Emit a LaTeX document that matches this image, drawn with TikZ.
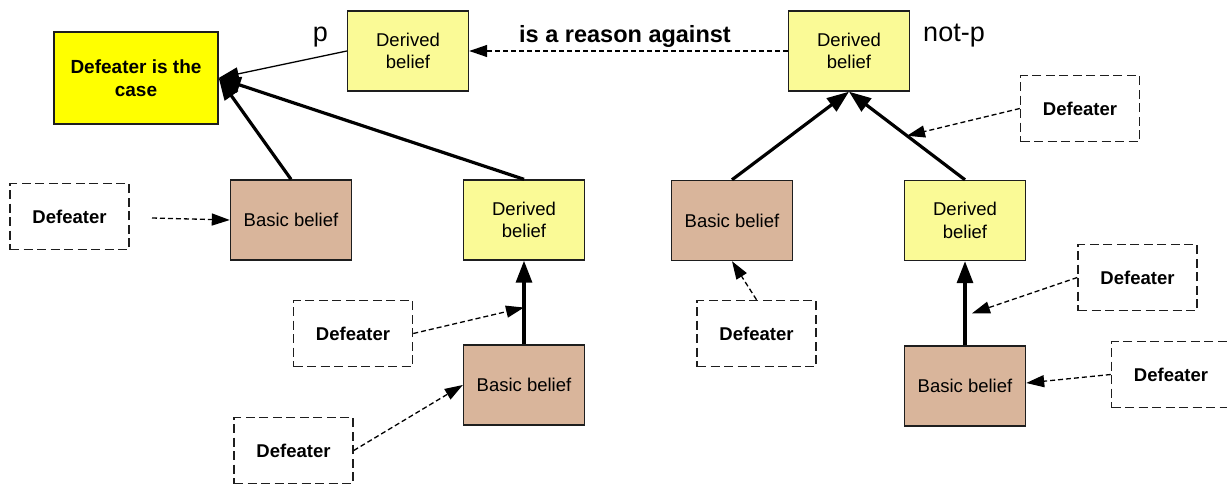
\documentclass[tikz,border=0pt]{standalone}
\usepackage{fontspec}
\setmainfont{Liberation Sans}
\usetikzlibrary{arrows.meta,calc}

\definecolor{casefill}{RGB}{255,255,0}
\definecolor{derivedfill}{RGB}{250,250,150}
\definecolor{basicfill}{RGB}{217,181,155}
\definecolor{edgecol}{RGB}{30,30,30}

\begin{document}
\begin{tikzpicture}[x=1pt,y=-1pt,
  box/.style={draw=edgecol, line width=1.4pt, inner sep=0pt, align=center,
    font=\fontsize{18.5}{22.7}\selectfont},
  derived/.style={box, fill=derivedfill, minimum width=121pt, minimum height=80pt},
  basic/.style={box, fill=basicfill, minimum width=121pt, minimum height=80pt},
  defeater/.style={draw=edgecol, line width=1.5pt, dash pattern=on 9pt off 4.5pt,
    minimum width=119pt, minimum height=66pt, inner sep=0pt,
    font=\bfseries\fontsize{18.5}{22}\selectfont},
  support/.style={line width=3.2pt, -{Triangle[length=22pt,width=16pt]}},
  plain/.style={line width=1.3pt, -{Triangle[length=20pt,width=13pt]}},
  attack/.style={line width=1.3pt, dash pattern=on 5pt off 3pt,
    -{Triangle[length=18pt,width=12pt]}},
  tag/.style={anchor=base, inner sep=0pt, font=\fontsize{27}{30}\selectfont},
]
\useasboundingbox (0,0) rectangle (1227,485);

% conclusion
\node[box, fill=casefill, font=\bfseries\fontsize{19}{23.3}\selectfont,
  minimum width=164pt, minimum height=92pt] (case) at (136,78) {Defeater is the\\case};

% top row of derived beliefs
\node[derived] (dp) at (408,51) {Derived\\belief};
\node[derived] (dnp) at (849,51) {Derived\\belief};
\node[tag] (p) at (320.5,41) {p};
\node[tag] (notp) at (954,41) {not-p};

% left branch
\node[basic] (b1) at (291,220) {Basic belief};
\node[derived] (d3) at (524,220) {Derived\\belief};
\node[basic] (b2) at (524,385) {Basic belief};

% right branch
\node[basic] (b3) at (732,220.5) {Basic belief};
\node[derived] (d4) at (965,220.5) {Derived\\belief};
\node[basic] (b4) at (965,386) {Basic belief};

% defeaters
\node[defeater] (f1) at (69.5,216.5) {Defeater};
\node[defeater] (f2) at (353,333.5) {Defeater};
\node[defeater] (f3) at (293.5,450.5) {Defeater};
\node[defeater] (f4) at (756.5,333.5) {Defeater};
\node[defeater] (f5) at (1080,108.5) {Defeater};
\node[defeater] (f6) at (1137.5,277.5) {Defeater};
\node[defeater] (f7) at (1171,374.5) {Defeater};

% support links
\draw[plain] (dp.west) -- (case.east);
\draw[support] (b1.north) -- (case.east);
\draw[support] (d3.north) -- (case.east);
\draw[support] (b2.north) -- (d3.south);
\draw[support] (b3.north) -- (dnp.south);
\draw[support] (d4.north) -- (dnp.south);
\draw[support] (b4.north) -- (d4.south);

% rebutting link
\draw[attack] (dnp.west) -- (dp.east);
\node[anchor=base, inner sep=0pt, font=\bfseries\fontsize{23.5}{26}\selectfont]
  (reason) at (625,42.5) {is a reason against};

% defeater links
\coordinate (f1s) at (152,218);
\coordinate (m2) at ($(b2.north)!0.44!(d3.south)$);
\coordinate (m5) at ($(d4.north)!0.5!(dnp.south)$);
\coordinate (m6) at ($(b4.north)!0.38!(d4.south)+(7,0)$);
\draw[attack] (f1s) -- (b1.west);
\draw[attack] (f2.east) -- (m2);
\draw[attack] (f3.east) -- (b2.west);
\draw[attack] (f4.north) -- (b3.south);
\draw[attack] (f5.west) -- (m5);
\draw[attack] (f6.west) -- (m6);
\draw[attack] (f7.west) -- ($(b4.east)+(0,-3)$);
\end{tikzpicture}
\end{document}
